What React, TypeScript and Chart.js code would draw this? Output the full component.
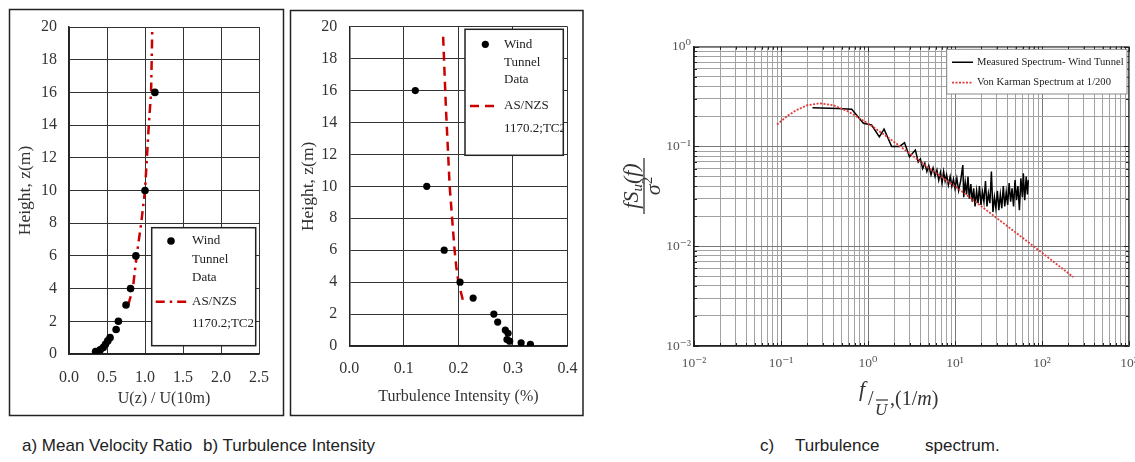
import React, { useEffect, useRef } from "react";
import { Chart, registerables } from "chart.js";

Chart.register(...registerables);

const SERIF = "'Liberation Serif', 'Times New Roman', 'DejaVu Serif', serif";

// ---------- a) Mean velocity ratio ----------
const velHeights = [16, 10, 6, 4, 3, 2, 1.5, 1.0, 0.8, 0.6, 0.4, 0.25, 0.15];
const velRatios = [1.13, 1.0, 0.88, 0.81, 0.75, 0.65, 0.62, 0.54, 0.51, 0.48, 0.45, 0.41, 0.35];
const codeVelHeights = [3, 4, 6, 8, 10, 14, 16, 19.7];
const codeVelRatios = [0.78, 0.84, 0.89, 0.95, 1.0, 1.05, 1.08, 1.095];
const velTickValues = [0, 0.5, 1.0, 1.5, 2.0, 2.5];
const heightTickValues = [0, 2, 4, 6, 8, 10, 12, 14, 16, 18, 20];

// ---------- b) Turbulence intensity ----------
const tiHeights = [16, 10, 6, 4, 3, 2, 1.5, 1.0, 0.8, 0.4, 0.3, 0.2, 0.1];
const tiValues = [0.121, 0.142, 0.174, 0.203, 0.227, 0.265, 0.272, 0.286, 0.291, 0.289, 0.294, 0.315, 0.332];
const codeTiHeights = [2.9, 4, 5, 6, 10, 15, 19.4];
const codeTiValues = [0.208, 0.2, 0.196, 0.193, 0.184, 0.177, 0.172];
const tiTickValues = [0, 0.1, 0.2, 0.3, 0.4];

// ---------- c) Turbulence spectrum ----------
const measuredF = [
  0.23, 0.45, 0.65, 0.886, 1.1, 1.35, 1.53, 1.87, 2.31, 2.63, 3.0, 3.5, 3.78, 4.0, 4.25, 4.5, 4.75, 5.0,
  5.3, 5.6, 5.9, 6.2, 6.5, 6.8, 7.1, 7.4, 7.7, 8.0, 8.4, 8.8, 9.2, 9.6, 10.0, 10.5, 11.0, 11.6, 12.3,
  12.6, 13.1, 13.6, 14.1, 14.6, 15.2, 15.8, 16.4, 17.0, 17.7, 18.4, 19.1, 19.9, 20.7, 21.5, 22.4, 23.3,
  24.2, 25.2, 26.2, 27.3, 28.4, 29.5, 30.7, 31.9, 33.2, 34.5, 35.9, 37.3, 38.8, 40.3, 41.9, 43.6, 45.3,
  47.1, 49.0, 50.9, 52.9, 55.0, 57.2, 59.5, 61.0, 63.3, 65.8, 68.0, 69.6,
];
const measuredS = [
  0.245, 0.24, 0.236, 0.171, 0.164, 0.125, 0.149, 0.1, 0.1, 0.109, 0.079, 0.092, 0.07, 0.075, 0.06, 0.068,
  0.056, 0.064, 0.052, 0.061, 0.05, 0.058, 0.046, 0.055, 0.043, 0.056, 0.045, 0.052, 0.041, 0.05, 0.04,
  0.047, 0.038, 0.048, 0.036, 0.045, 0.065, 0.031, 0.044, 0.033, 0.05, 0.03, 0.042, 0.028, 0.038, 0.025,
  0.036, 0.027, 0.04, 0.026, 0.035, 0.028, 0.045, 0.025, 0.034, 0.027, 0.056, 0.022, 0.031, 0.024, 0.036,
  0.023, 0.033, 0.024, 0.04, 0.025, 0.035, 0.026, 0.043, 0.028, 0.038, 0.025, 0.046, 0.029, 0.04, 0.023,
  0.048, 0.031, 0.054, 0.029, 0.05, 0.033, 0.046,
];
const vonKarmanF = [0.09, 0.12, 0.15, 0.2, 0.28, 0.4, 0.6, 1, 1.5, 2, 3, 5, 10, 20, 50, 100, 229];
const vonKarmanS = [0.166, 0.204, 0.231, 0.259, 0.271, 0.259, 0.223, 0.17, 0.133, 0.111, 0.0851, 0.0608, 0.04, 0.0252, 0.0137, 0.0086, 0.0049];
const freqDecades = [0.01, 0.1, 1, 10, 100, 1000];
const freqDecadeLabels = ["10\u207B\u00B2", "10\u207B\u00B9", "10\u2070", "10\u00B9", "10\u00B2", "10\u00B3"];
const specDecades = [0.001, 0.01, 0.1, 1];
const specDecadeLabels = ["10\u207B\u00B3", "10\u207B\u00B2", "10\u207B\u00B9", "10\u2070"];

// ---------- helpers ----------
const toXY = (xs: number[], ys: number[]) => xs.map((x, i) => ({ x, y: ys[i] }));

const zeroPad = (s: any) => {
  s.paddingLeft = 0;
  s.paddingRight = 0;
  s.paddingTop = 0;
  s.paddingBottom = 0;
};
const fixWidth = (w: number) => (s: any) => {
  s.width = w;
  zeroPad(s);
};
const fixHeight = (h: number) => (s: any) => {
  s.height = h;
  zeroPad(s);
};
const setTicks = (vals: number[]) => (s: any) => {
  s.ticks = vals.map((v) => ({ value: v }));
};
const logTicks = (decades: number[]) => {
  const out: number[] = [];
  decades.forEach((d, i) => {
    if (i === decades.length - 1) out.push(d);
    else for (let m = 1; m <= 9; m++) out.push(m * d);
  });
  return out;
};
const decadeIndex = (decades: number[], v: number) =>
  decades.findIndex((d) => Math.abs(d - v) / d < 1e-9);

const framePlugin = (id: string, rect: number[], color: string, width: number) => ({
  id,
  beforeDraw(chart: any) {
    const ctx = chart.ctx;
    ctx.save();
    ctx.strokeStyle = color;
    ctx.lineWidth = width;
    ctx.strokeRect(rect[0], rect[1], rect[2], rect[3]);
    ctx.restore();
  },
});

type LegendRow = {
  kind: "point" | "line";
  ds: number;
  sx: number;
  sx2?: number;
  sy: number;
  tx: number;
  lines: string[];
  ty: number[];
};
type LegendSpec = {
  box: number[];
  boxColor: string;
  boxWidth: number;
  font: string;
  textColor: string;
  rows: LegendRow[];
};

const legendPlugin = (id: string, spec: LegendSpec) => ({
  id,
  afterDraw(chart: any) {
    const ctx = chart.ctx;
    const [x, y, w, h] = spec.box;
    ctx.save();
    ctx.fillStyle = "#fff";
    ctx.fillRect(x, y, w, h);
    ctx.strokeStyle = spec.boxColor;
    ctx.lineWidth = spec.boxWidth;
    ctx.strokeRect(x, y, w, h);
    ctx.beginPath();
    ctx.rect(x, y, w, h);
    ctx.clip();
    for (const r of spec.rows) {
      const ds: any = chart.data.datasets[r.ds];
      if (r.kind === "point") {
        ctx.fillStyle = ds.pointBackgroundColor;
        ctx.beginPath();
        ctx.arc(r.sx, r.sy, ds.pointRadius, 0, Math.PI * 2);
        ctx.fill();
      } else {
        ctx.strokeStyle = ds.borderColor;
        ctx.lineWidth = ds.borderWidth;
        ctx.setLineDash(ds.borderDash || []);
        ctx.beginPath();
        ctx.moveTo(r.sx, r.sy);
        ctx.lineTo(r.sx2 as number, r.sy);
        ctx.stroke();
        ctx.setLineDash([]);
      }
      ctx.fillStyle = spec.textColor;
      ctx.font = spec.font;
      ctx.textBaseline = "middle";
      ctx.textAlign = "left";
      r.lines.forEach((t, i) => ctx.fillText(t, r.tx, r.ty[i]));
    }
    ctx.restore();
  },
});

const tickFont = { family: SERIF, size: 16, lineHeight: 1.2 };
const titleFont = { family: SERIF, size: 16, lineHeight: 1.2 };

function profileScales(o: {
  xMin: number;
  xMax: number;
  xTicks: number[];
  xTitle: string;
  xAxisH: number;
  yAxisW: number;
  xTickPad: number;
  xTitlePad: number;
  yTickPad: number;
  yTitlePad: number;
}) {
  return {
    x: {
      type: "linear",
      min: o.xMin,
      max: o.xMax,
      afterBuildTicks: setTicks(o.xTicks),
      afterFit: fixHeight(o.xAxisH),
      ticks: {
        autoSkip: false,
        maxRotation: 0,
        padding: o.xTickPad,
        font: tickFont,
        color: "#333",
        callback: (v: any) => Number(v).toFixed(1),
      },
      grid: { color: "#333", lineWidth: 1, drawTicks: false },
      border: { color: "#222", width: 1.5 },
      title: {
        display: true,
        text: o.xTitle,
        font: titleFont,
        color: "#333",
        padding: { top: 0, bottom: o.xTitlePad },
      },
    },
    y: {
      type: "linear",
      min: 0,
      max: 20,
      afterBuildTicks: setTicks(heightTickValues),
      afterFit: fixWidth(o.yAxisW),
      ticks: { autoSkip: false, padding: o.yTickPad, font: tickFont, color: "#333" },
      grid: { color: "#333", lineWidth: 1, drawTicks: false },
      border: { color: "#222", width: 1.5 },
      title: {
        display: true,
        text: "Height, z(m)",
        font: { family: SERIF, size: 17.5, lineHeight: 1.2 },
        color: "#333",
        padding: { top: o.yTitlePad, bottom: 0 },
      },
    },
  };
}

const baseOptions = (padding: any) => ({
  responsive: false,
  animation: false,
  devicePixelRatio: 1,
  events: [],
  layout: { padding },
  plugins: { legend: { display: false }, tooltip: { enabled: false } },
});

// spectrum extras: top/right box, inner ticks, fraction y-title, x-title
const spectrumDecor = {
  id: "spectrumDecor",
  beforeDatasetsDraw(chart: any) {
    const ctx = chart.ctx;
    const a = chart.chartArea;
    const xs = chart.scales.x;
    const ys = chart.scales.y;
    ctx.save();
    ctx.strokeStyle = "#555";
    ctx.lineWidth = 1;
    ctx.beginPath();
    ctx.moveTo(a.left, a.top + 0.5);
    ctx.lineTo(a.right - 0.5, a.top + 0.5);
    ctx.lineTo(a.right - 0.5, a.bottom);
    ctx.stroke();
    ctx.strokeStyle = "#222";
    ctx.beginPath();
    xs.ticks.forEach((t: any) => {
      const px = Math.round(xs.getPixelForValue(t.value)) + 0.5;
      const len = decadeIndex(freqDecades, t.value) >= 0 ? 5 : 3;
      ctx.moveTo(px, a.bottom);
      ctx.lineTo(px, a.bottom - len);
      ctx.moveTo(px, a.top);
      ctx.lineTo(px, a.top + len);
    });
    ys.ticks.forEach((t: any) => {
      const py = Math.round(ys.getPixelForValue(t.value)) + 0.5;
      const len = decadeIndex(specDecades, t.value) >= 0 ? 5 : 3;
      ctx.moveTo(a.left, py);
      ctx.lineTo(a.left + len, py);
      ctx.moveTo(a.right, py);
      ctx.lineTo(a.right - len, py);
    });
    ctx.stroke();
    ctx.restore();
  },
  afterDraw(chart: any) {
    const ctx = chart.ctx;
    ctx.save();
    ctx.fillStyle = "#333";
    ctx.strokeStyle = "#333";
    // y title: fraction  f S_u(f) / sigma^2  (rotated)
    ctx.translate(24, 186);
    ctx.rotate(-Math.PI / 2);
    ctx.textBaseline = "alphabetic";
    ctx.textAlign = "left";
    const big = `italic 22px ${SERIF}`;
    const small = `italic 15px ${SERIF}`;
    ctx.font = big;
    const w1 = ctx.measureText("fS").width;
    const w3 = ctx.measureText("(f)").width;
    ctx.font = small;
    const w2 = ctx.measureText("u").width;
    let x0 = -(w1 + w2 + w3) / 2;
    ctx.font = big;
    ctx.fillText("fS", x0, -6);
    ctx.font = small;
    ctx.fillText("u", x0 + w1, -2);
    ctx.font = big;
    ctx.fillText("(f)", x0 + w1 + w2, -6);
    ctx.lineWidth = 1.3;
    ctx.beginPath();
    ctx.moveTo(-28, 0);
    ctx.lineTo(28, 0);
    ctx.stroke();
    ctx.font = big;
    const ws = ctx.measureText("\u03C3").width;
    ctx.font = small;
    const w22 = ctx.measureText("2").width;
    x0 = -(ws + w22) / 2;
    ctx.font = big;
    ctx.fillText("\u03C3", x0, 16);
    ctx.font = `15px ${SERIF}`;
    ctx.fillText("2", x0 + ws, 8);
    ctx.setTransform(1, 0, 0, 1, 0, 0);
    // x title: f / U-bar , (1/m)
    ctx.font = `italic 22px ${SERIF}`;
    ctx.fillText("f", 239, 396);
    ctx.font = `20px ${SERIF}`;
    ctx.fillText("/", 248, 405);
    ctx.font = `italic 17px ${SERIF}`;
    ctx.fillText("U", 255, 415);
    ctx.lineWidth = 1.2;
    ctx.beginPath();
    ctx.moveTo(256, 400);
    ctx.lineTo(268, 400);
    ctx.stroke();
    ctx.font = `20px ${SERIF}`;
    ctx.fillText(",(1/", 270, 405);
    const wa = ctx.measureText(",(1/").width;
    ctx.font = `italic 20px ${SERIF}`;
    ctx.fillText("m", 270 + wa, 405);
    const wm = ctx.measureText("m").width;
    ctx.font = `20px ${SERIF}`;
    ctx.fillText(")", 270 + wa + wm, 405);
    ctx.restore();
  },
};

export default function App() {
  const refA = useRef<HTMLCanvasElement>(null);
  const refB = useRef<HTMLCanvasElement>(null);
  const refC = useRef<HTMLCanvasElement>(null);

  useEffect(() => {
    const charts: Chart[] = [];

    // ---- a ----
    charts.push(
      new Chart(refA.current as HTMLCanvasElement, {
        type: "scatter",
        data: {
          datasets: [
            {
              label: "Wind Tunnel Data",
              data: toXY(velRatios, velHeights),
              showLine: false,
              pointRadius: 3.8,
              pointBackgroundColor: "#000",
              pointBorderColor: "#000",
              pointBorderWidth: 0,
              order: 0,
            },
            {
              label: "AS/NZS 1170.2;TC2",
              data: toXY(codeVelRatios, codeVelHeights),
              showLine: true,
              borderColor: "#cc0000",
              borderWidth: 2.5,
              borderDash: [9, 5, 2.5, 5],
              pointRadius: 0,
              order: 1,
            },
          ],
        },
        options: {
          ...baseOptions({ left: 0, top: 27, right: 31, bottom: 0 }),
          scales: profileScales({
            xMin: 0,
            xMax: 2.5,
            xTicks: velTickValues,
            xTitle: "U(z) / U(10m)",
            xAxisH: 66,
            yAxisW: 69,
            xTickPad: 14,
            xTitlePad: 12,
            yTickPad: 12,
            yTitlePad: 15,
          }),
        } as any,
        plugins: [
          framePlugin("frameA", [9.5, 9.5, 274, 406], "#222", 1.5),
          legendPlugin("legendA", {
            box: [151.7, 227.7, 104, 118],
            boxColor: "#222",
            boxWidth: 1.5,
            font: `13px ${SERIF}`,
            textColor: "#222",
            rows: [
              { kind: "point", ds: 0, sx: 171, sy: 241, tx: 192, lines: ["Wind", "Tunnel", "Data"], ty: [241, 260, 278] },
              { kind: "line", ds: 1, sx: 155.7, sx2: 190, sy: 301.7, tx: 192, lines: ["AS/NZS", "1170.2;TC2"], ty: [302, 323.7] },
            ],
          }),
        ],
      } as any)
    );

    // ---- b ----
    charts.push(
      new Chart(refB.current as HTMLCanvasElement, {
        type: "scatter",
        data: {
          datasets: [
            {
              label: "Wind Tunnel Data",
              data: toXY(tiValues, tiHeights),
              showLine: false,
              pointRadius: 3.6,
              pointBackgroundColor: "#000",
              pointBorderColor: "#000",
              pointBorderWidth: 0,
              order: 0,
            },
            {
              label: "AS/NZS 1170.2;TC2",
              data: toXY(codeTiValues, codeTiHeights),
              showLine: true,
              borderColor: "#cc0000",
              borderWidth: 2.5,
              borderDash: [9, 6],
              pointRadius: 0,
              order: 1,
            },
          ],
        },
        options: {
          ...baseOptions({ left: 0, top: 26.7, right: 17.5, bottom: 0 }),
          scales: profileScales({
            xMin: 0,
            xMax: 0.4,
            xTicks: tiTickValues,
            xTitle: "Turbulence Intensity (%)",
            xAxisH: 74,
            yAxisW: 63.3,
            xTickPad: 13,
            xTitlePad: 14,
            yTickPad: 12,
            yTitlePad: 11.5,
          }),
        } as any,
        plugins: [
          framePlugin("frameB", [4.5, 10.5, 292.5, 405], "#222", 1.5),
          legendPlugin("legendB", {
            box: [179, 29.3, 98.3, 126],
            boxColor: "#222",
            boxWidth: 1.5,
            font: `13px ${SERIF}`,
            textColor: "#222",
            rows: [
              { kind: "point", ds: 0, sx: 199.3, sy: 44.3, tx: 218, lines: ["Wind", "Tunnel", "Data"], ty: [44.3, 62.3, 80] },
              { kind: "line", ds: 1, sx: 184, sx2: 209.7, sy: 106, tx: 218, lines: ["AS/NZS", "1170.2;TC2"], ty: [106, 128.3] },
            ],
          }),
        ],
      } as any)
    );

    // ---- c ----
    const gridColor = (decades: number[]) => (ctx: any) =>
      ctx.tick && decadeIndex(decades, ctx.tick.value) >= 0 ? "#7a7a7a" : "#a2a2a2";
    charts.push(
      new Chart(refC.current as HTMLCanvasElement, {
        type: "scatter",
        data: {
          datasets: [
            {
              label: "Measured Spectrum- Wind Tunnel",
              data: toXY(measuredF, measuredS),
              showLine: true,
              borderColor: "#000",
              borderWidth: 1.5,
              pointRadius: 0,
              order: 1,
            },
            {
              label: "Von Karman Spectrum at 1/200",
              data: toXY(vonKarmanF, vonKarmanS),
              showLine: true,
              borderColor: "#e23a3a",
              borderWidth: 1.8,
              borderDash: [2, 1.5],
              pointRadius: 0,
              order: 0,
            },
          ],
        },
        options: {
          ...baseOptions({ left: 0, top: 46.7, right: 6, bottom: 0 }),
          scales: {
            x: {
              type: "logarithmic",
              min: 0.01,
              max: 1000,
              afterBuildTicks: setTicks(logTicks(freqDecades)),
              afterFit: fixHeight(74),
              ticks: {
                autoSkip: false,
                maxRotation: 0,
                padding: 9,
                font: { family: SERIF, size: 13.5, lineHeight: 1.2 },
                color: "#555",
                callback: (v: any) => {
                  const i = decadeIndex(freqDecades, Number(v));
                  return i >= 0 ? freqDecadeLabels[i] : "";
                },
              },
              grid: { drawTicks: false, lineWidth: 1, color: gridColor(freqDecades) },
              border: { color: "#222", width: 1.5 },
            },
            y: {
              type: "logarithmic",
              min: 0.001,
              max: 1,
              afterBuildTicks: setTicks(logTicks(specDecades)),
              afterFit: fixWidth(74),
              ticks: {
                autoSkip: false,
                padding: 3,
                font: { family: SERIF, size: 13.5, lineHeight: 1.2 },
                color: "#555",
                callback: (v: any) => {
                  const i = decadeIndex(specDecades, Number(v));
                  return i >= 0 ? specDecadeLabels[i] : "";
                },
              },
              grid: { drawTicks: false, lineWidth: 1, color: gridColor(specDecades) },
              border: { color: "#222", width: 1.5 },
            },
          },
        } as any,
        plugins: [
          spectrumDecor,
          legendPlugin("legendC", {
            box: [326.7, 49.3, 180.3, 44.7],
            boxColor: "#888",
            boxWidth: 1,
            font: `10.6px ${SERIF}`,
            textColor: "#222",
            rows: [
              { kind: "line", ds: 0, sx: 332, sx2: 353, sy: 62.3, tx: 357, lines: ["Measured Spectrum- Wind Tunnel"], ty: [62.3] },
              { kind: "line", ds: 1, sx: 332, sx2: 353, sy: 82.7, tx: 357, lines: ["Von Karman Spectrum at 1/200"], ty: [82.7] },
            ],
          }),
        ],
      } as any)
    );

    return () => charts.forEach((c) => c.destroy());
  }, []);

  const cap: React.CSSProperties = {
    position: "absolute",
    top: 435,
    fontFamily: "'Liberation Sans', Arial, sans-serif",
    fontSize: 17,
    color: "#222",
    whiteSpace: "pre",
    lineHeight: "21px",
  };

  return (
    <div style={{ position: "absolute", left: 0, top: 0, width: 1135, height: 462, background: "#fff", overflow: "hidden" }}>
      <canvas ref={refA} width={290} height={420} style={{ position: "absolute", left: 0, top: 0, width: 290, height: 420 }} />
      <canvas ref={refB} width={299} height={420} style={{ position: "absolute", left: 286, top: 0, width: 299, height: 420 }} />
      <canvas ref={refC} width={515} height={420} style={{ position: "absolute", left: 620, top: 0, width: 515, height: 420 }} />
      <span style={{ ...cap, left: 22 }}>a) Mean Velocity Ratio</span>
      <span style={{ ...cap, left: 203 }}>b) Turbulence Intensity</span>
      <span style={{ ...cap, left: 760 }}>c)</span>
      <span style={{ ...cap, left: 795 }}>Turbulence</span>
      <span style={{ ...cap, left: 925 }}>spectrum.</span>
    </div>
  );
}
